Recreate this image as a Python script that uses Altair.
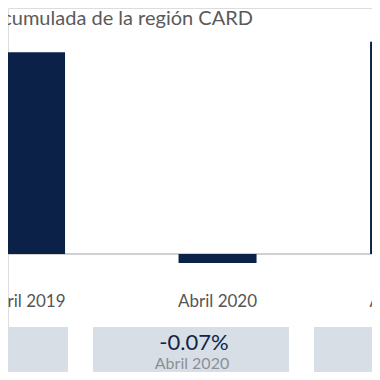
import altair as alt
import pandas as pd

# Data
categories = ["Abril 2019", "Abril 2020", "Abril 2021"]
values = [1.57, -0.07, 1.65]
title_text = "Variación acumulada de la región CARD"

df = pd.DataFrame({"cat": categories, "value": values})

W, H = 364, 364
FONT = "Lato"
NAVY = "#0b2147"

def bar_x():
    return alt.X(
        "cat:N",
        sort=categories,
        axis=None,
        scale=alt.Scale(range=[-77.7, 496.8], paddingInner=0.5927, paddingOuter=0.2963),
    )

def box_x():
    return alt.X(
        "cat:N",
        sort=categories,
        axis=None,
        scale=alt.Scale(range=[-148.5, 514.5], paddingInner=0.1131, paddingOuter=0.0566),
    )

y_scale = alt.Scale(domain=[-0.9178, 1.9133], nice=False, zero=False)

base = alt.Chart(df)

baseline = base.mark_rule(color="#c9c9c9", strokeWidth=1).encode(
    y=alt.Y("zero:Q", scale=y_scale, axis=None), x=alt.value(-20), x2=alt.value(400)
).transform_calculate(zero="0")

bars = base.mark_bar(color=NAVY).encode(
    x=bar_x(),
    y=alt.Y("value:Q", scale=y_scale, axis=None),
    y2=alt.Y2("zero:Q"),
).transform_calculate(zero="0")

bar_labels = base.mark_text(
    font=FONT, fontSize=17, color="#555555", baseline="alphabetic", align="center"
).encode(x=bar_x(), y=alt.value(299), text="cat:N")

boxes = base.mark_rect(color="#d8dee6").encode(
    x=box_x(), y=alt.value(319), y2=alt.value(400)
)

box_values = base.transform_calculate(
    label="replace(format(datum.value, '.2f'), '\u2212', '-') + '%'",
    col="datum.value > 0 ? '#3f8fdc' : '#0f2549'",
).mark_text(font=FONT, fontSize=22, baseline="alphabetic", align="center", dx=3).encode(
    x=box_x(),
    y=alt.value(342),
    text="label:N",
    color=alt.Color("col:N", scale=None),
)

box_dates = base.mark_text(
    font=FONT, fontSize=16, color="#8b9097", baseline="alphabetic", align="center", dx=1
).encode(x=box_x(), y=alt.value(361), text="cat:N")

title = base.mark_text(
    font=FONT, fontSize=20, color="#5a5a5a", align="right", baseline="alphabetic",
    text=title_text,
).encode(x=alt.value(245), y=alt.value(17)).transform_filter("datum.cat == 'Abril 2019'")

chart = (
    alt.layer(baseline, bars, bar_labels, boxes, box_values, box_dates, title)
    .resolve_scale(x="independent")
    .properties(width=W, height=H, autosize=alt.AutoSizeParams(type="none"), padding=0)
    .configure_view(stroke=None)
    .configure(background="white")
)

chart.save("out.html", embed_options={"renderer": "svg", "actions": False})
